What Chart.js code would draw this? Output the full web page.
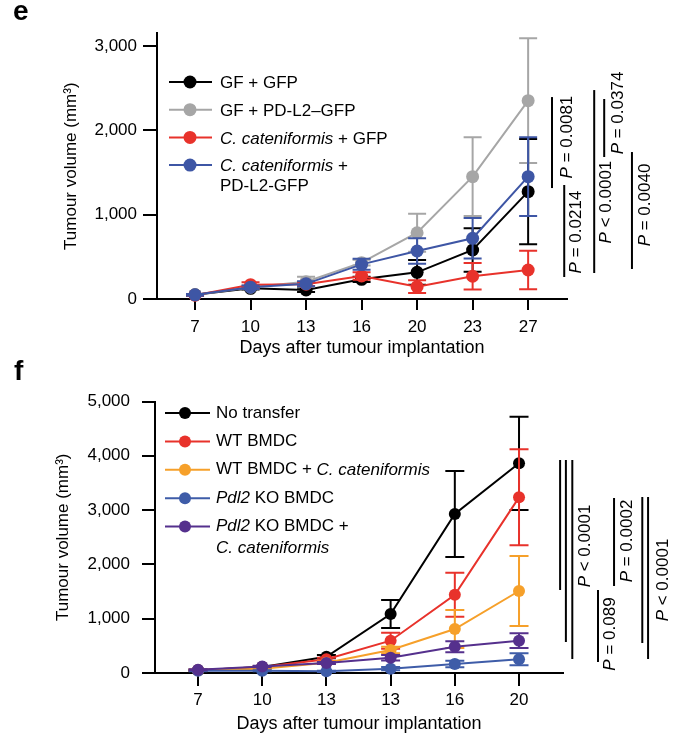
<!DOCTYPE html>
<html><head><meta charset="utf-8">
<script src="https://cdn.jsdelivr.net/npm/chart.js@4.4.1/dist/chart.umd.min.js"></script>
<style>
html,body{margin:0;padding:0;background:#fff}
#wrap{position:relative;width:688px;height:741px;overflow:hidden;background:#fff}
canvas{position:absolute;left:0}
.lbl{position:absolute;font:bold 28px "Liberation Sans",Arial,sans-serif;line-height:28px;color:#000}
</style></head><body>
<div id="wrap">
<canvas id="ce" width="688" height="365" style="top:0"></canvas>
<canvas id="cf" width="688" height="376" style="top:365px"></canvas>
<div class="lbl" style="left:13px;top:-3px">e</div>
<div class="lbl" style="left:14px;top:357px">f</div>
</div>
<script>
const FONT = '"Liberation Sans", Arial, Helvetica, sans-serif';
const FS = 17;
const TITLE_FS = 18;

// ---------- Panel e data ----------
const xLabelsE = ['7','10','13','16','20','23','27'];
const yTicksE = [0,1000,2000,3000];
const gfGfp = [50,127,107,233,316,581,1273];
const gfGfpErr = [10,15,25,30,146,257,625];
const gfPdl2 = [50,140,205,431,786,1451,2352];
const gfPdl2Err = [10,20,60,35,226,466,739];
const ccGfp = [45,170,175,273,146,270,344];
const ccGfpErr = [10,30,20,45,75,158,229];
const ccPdl2 = [50,140,180,411,569,720,1451];
const ccPdl2Err = [10,20,30,65,151,240,466];
const legendE = [
  [[['GF + GFP',false]]],
  [[['GF + PD-L2\u2013GFP',false]]],
  [[['C. cateniformis',true],[' + GFP',false]]],
  [[['C. cateniformis',true],[' +',false]],[['PD-L2-GFP',false]]]
];
const pLabelsE = ['P = 0.0081','P = 0.0214','P < 0.0001','P = 0.0374','P = 0.0040'];

// ---------- Panel f data ----------
const xLabelsF = ['7','10','13','13','16','20'];
const yTicksF = [0,1000,2000,3000,4000,5000];
const noTransfer = [50,110,300,1087,2928,3862];
const noTransferErr = [10,15,30,257,792,858];
const wtBmdc = [50,110,252,595,1442,3235];
const wtBmdcErr = [10,15,30,147,405,884];
const wtBmdcCc = [50,80,190,424,810,1510];
const wtBmdcCcErr = [10,10,20,60,350,645];
const koBmdc = [40,40,30,80,166,252];
const koBmdcErr = [10,10,10,30,60,110];
const koBmdcCc = [60,120,184,282,484,595];
const koBmdcCcErr = [10,15,20,50,100,135];
const legendF = [
  [[['No transfer',false]]],
  [[['WT BMDC',false]]],
  [[['WT BMDC + ',false],['C. cateniformis',true]]],
  [[['Pdl2',true],[' KO BMDC',false]]],
  [[['Pdl2',true],[' KO BMDC +',false]],[['C. cateniformis',true]]]
];
const pLabelsF = ['P < 0.0001','P = 0.089','P = 0.0002','P < 0.0001'];

function pts(arr){ return arr.map((v,i)=>({x:i,y:v})); }
function fmt(v){ return Number(v).toLocaleString('en-US'); }
function pSegs(s){ return [['P',true],[s.slice(1),false]]; }

function drawSegs(ctx, segs, x, y){
  segs.forEach(([t,it])=>{
    ctx.font = (it?'italic ':'') + FS + 'px ' + FONT;
    ctx.fillText(t, x, y);
    x += ctx.measureText(t).width;
  });
}
function segsWidth(ctx, segs){
  let w = 0;
  segs.forEach(([t,it])=>{ ctx.font = (it?'italic ':'') + FS + 'px ' + FONT; w += ctx.measureText(t).width; });
  return w;
}

const errorBars = {
  id: 'errorBars',
  beforeDatasetDraw(chart, args, opts){
    const ds = chart.data.datasets[args.index];
    if (!ds.err) return;
    const ys = chart.scales.y, ctx = chart.ctx, cap = opts.cap || 9;
    ctx.save();
    ctx.strokeStyle = ds.borderColor; ctx.lineWidth = 2;
    args.meta.data.forEach((pt,i)=>{
      const v = ds.data[i].y, e = ds.err[i];
      const x = pt.x, t = ys.getPixelForValue(v+e), b = ys.getPixelForValue(Math.max(v-e,0));
      ctx.beginPath();
      ctx.moveTo(x,t); ctx.lineTo(x,b);
      ctx.moveTo(x-cap,t); ctx.lineTo(x+cap,t);
      ctx.moveTo(x-cap,b); ctx.lineTo(x+cap,b);
      ctx.stroke();
    });
    ctx.restore();
  }
};

const decor = {
  id: 'decor',
  afterDraw(chart, args, o){
    const ctx = chart.ctx, xs = chart.scales.x, ys = chart.scales.y;
    ctx.save();
    const L = o.legend;
    chart.data.datasets.forEach((ds,i)=>{
      const y = L.y0 + i*L.dy;
      ctx.strokeStyle = ds.borderColor; ctx.lineWidth = 2;
      ctx.beginPath(); ctx.moveTo(L.x1,y); ctx.lineTo(L.x2,y); ctx.stroke();
      ctx.fillStyle = ds.borderColor;
      ctx.beginPath(); ctx.arc(L.xm,y,L.r,0,Math.PI*2); ctx.fill();
      ctx.fillStyle = '#000'; ctx.textBaseline = 'middle'; ctx.textAlign = 'left';
      ds.legendLines.forEach((segs,j)=> drawSegs(ctx, segs, L.xt, y + L.textDy + j*L.wrap));
    });
    ctx.strokeStyle = '#000'; ctx.lineWidth = 2;
    o.brackets.forEach(b=>{
      const x = xs.getPixelForValue(b.x);
      ctx.beginPath(); ctx.moveTo(x, ys.getPixelForValue(b.y1)); ctx.lineTo(x, ys.getPixelForValue(b.y2)); ctx.stroke();
    });
    ctx.fillStyle = '#000'; ctx.textBaseline = 'middle'; ctx.textAlign = 'left';
    o.pTexts.forEach(p=>{
      const segs = pSegs(p.text);
      const w = segsWidth(ctx, segs);
      ctx.save();
      ctx.translate(xs.getPixelForValue(p.x), ys.getPixelForValue(p.y));
      ctx.rotate(-Math.PI/2);
      drawSegs(ctx, segs, -w/2, 0);
      ctx.restore();
    });
    ctx.restore();
  }
};

function dataset(label, vals, errs, color, legendLines, r){
  return { label, data: pts(vals), err: errs, borderColor: color, backgroundColor: color,
    pointBackgroundColor: color, pointBorderWidth: 0, pointRadius: r, borderWidth: 2,
    tension: 0, clip: false, legendLines };
}

function makeChart(id, c){
  const n = c.datasets.length;
  c.datasets.forEach((d,i)=> d.order = n - i);
  return new Chart(document.getElementById(id), {
    type: 'line',
    data: { datasets: c.datasets },
    plugins: [errorBars, decor],
    options: {
      responsive: false, animation: false, devicePixelRatio: 1, events: [],
      layout: { padding: { left: 0, top: c.padTop, right: c.padRight, bottom: 0 } },
      scales: {
        x: {
          type: 'linear', min: c.xMin, max: c.xMax,
          afterBuildTicks: ax => { ax.ticks = c.xLabels.map((_,i)=>({value:i})); },
          afterFit: ax => { ax.height = c.xHeight; },
          ticks: { callback: v => c.xLabels[v], autoSkip: false, maxRotation: 0, color: '#000',
            padding: c.xTickPad, font: { family: FONT, size: FS } },
          grid: { drawOnChartArea: false, drawTicks: true, tickLength: c.xTickLen, color: '#000', lineWidth: 2 },
          border: { display: true, color: '#000', width: 2 },
          title: { display: true, text: 'Days after tumour implantation', color: '#000',
            font: { family: FONT, size: TITLE_FS }, padding: { top: 0, bottom: c.xTitlePad } }
        },
        y: {
          type: 'linear', min: 0, max: c.yMax,
          afterBuildTicks: ax => { ax.ticks = c.yTicks.map(v=>({value:v})); },
          afterFit: ax => { ax.width = c.yWidth; },
          ticks: { callback: v => fmt(v), color: '#000', padding: c.yTickPad, font: { family: FONT, size: FS } },
          grid: { drawOnChartArea: false, drawTicks: true, tickLength: c.yTickLen, color: '#000', lineWidth: 2 },
          border: { display: true, color: '#000', width: 2 },
          title: { display: true, text: 'Tumour volume (mm\u00B3)', color: '#000',
            font: { family: FONT, size: FS }, padding: { top: c.yTitlePad, bottom: 0 } }
        }
      },
      plugins: {
        legend: { display: false }, tooltip: { enabled: false },
        errorBars: { cap: c.cap },
        decor: { legend: c.legend, brackets: c.brackets, pTexts: c.pTexts }
      }
    }
  });
}

// ---------- Panel e ----------
makeChart('ce', {
  xLabels: xLabelsE, yTicks: yTicksE, xMin: -0.685, xMax: 6.70, yMax: 3150,
  padTop: 33.4, padRight: 121, xHeight: 66, yWidth: 157,
  xTickPad: 7, xTickLen: 11, xTitlePad: 5.8, yTickPad: 6, yTickLen: 14, yTitlePad: 61, cap: 9,
  datasets: [
    dataset('GF + GFP', gfGfp, gfGfpErr, '#000000', legendE[0], 6.5),
    dataset('GF + PD-L2–GFP', gfPdl2, gfPdl2Err, '#a6a6a6', legendE[1], 6.5),
    dataset('C. cateniformis + GFP', ccGfp, ccGfpErr, '#e8322b', legendE[2], 6.5),
    dataset('C. cateniformis + PD-L2-GFP', ccPdl2, ccPdl2Err, '#3e56a5', legendE[3], 6.5)
  ],
  legend: { y0: 82, dy: 27.7, wrap: 20, x1: 169, x2: 212, xm: 190, r: 6.5, xt: 220, textDy: 1.5 },
  brackets: [
    {x: 6.43, y1: 2395, y2: 1316},
    {x: 6.65, y1: 1352, y2: 261},
    {x: 7.19, y1: 2478, y2: 308},
    {x: 7.37, y1: 2372, y2: 1684},
    {x: 7.87, y1: 1743, y2: 356}
  ],
  pTexts: [
    {x: 6.70, y: 1921, text: pLabelsE[0]},
    {x: 6.86, y: 794, text: pLabelsE[1]},
    {x: 7.41, y: 1150, text: pLabelsE[2]},
    {x: 7.62, y: 2206, text: pLabelsE[3]},
    {x: 8.11, y: 1115, text: pLabelsE[4]}
  ]
});

// ---------- Panel f ----------
makeChart('cf', {
  xLabels: xLabelsF, yTicks: yTicksF, xMin: -0.67, xMax: 5.685, yMax: 5000,
  padTop: 36.5, padRight: 125, xHeight: 68, yWidth: 155,
  xTickPad: 4, xTickLen: 13, xTitlePad: 6.3, yTickPad: 12, yTickLen: 13, yTitlePad: 53, cap: 9.5,
  datasets: [
    dataset('No transfer', noTransfer, noTransferErr, '#000000', legendF[0], 6),
    dataset('WT BMDC', wtBmdc, wtBmdcErr, '#e8322b', legendF[1], 6),
    dataset('WT BMDC + C. cateniformis', wtBmdcCc, wtBmdcCcErr, '#f6a02a', legendF[2], 6),
    dataset('Pdl2 KO BMDC', koBmdc, koBmdcErr, '#3e5ca8', legendF[3], 6),
    dataset('Pdl2 KO BMDC + C. cateniformis', koBmdcCc, koBmdcCcErr, '#55308d', legendF[4], 6)
  ],
  legend: { y0: 48, dy: 28.4, wrap: 22, x1: 165, x2: 210, xm: 185, r: 6, xt: 216, textDy: 0 },
  brackets: [
    {x: 5.64, y1: 3923, y2: 1529},
    {x: 5.73, y1: 3923, y2: 571},
    {x: 5.83, y1: 3923, y2: 258},
    {x: 6.23, y1: 1529, y2: 203},
    {x: 6.48, y1: 3223, y2: 1602},
    {x: 6.92, y1: 3241, y2: 552},
    {x: 7.01, y1: 3241, y2: 258}
  ],
  pTexts: [
    {x: 6.03, y: 2339, text: pLabelsF[0]},
    {x: 6.42, y: 718, text: pLabelsF[1]},
    {x: 6.68, y: 2431, text: pLabelsF[2]},
    {x: 7.24, y: 1713, text: pLabelsF[3]}
  ]
});
</script>
</body></html>
